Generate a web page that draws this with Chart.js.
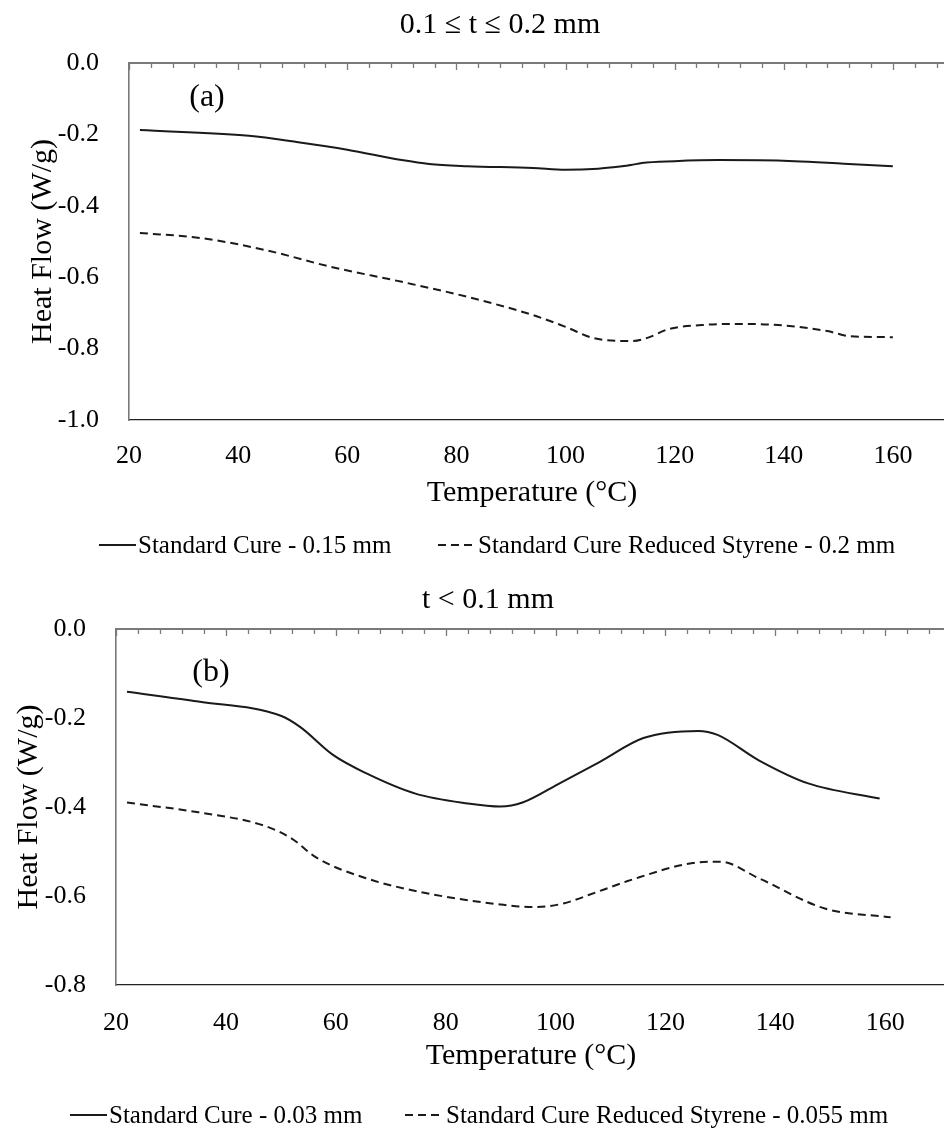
<!DOCTYPE html>
<html>
<head>
<meta charset="utf-8">
<script src="https://cdn.jsdelivr.net/npm/chart.js@4"></script>
<style>
html, body { margin: 0; padding: 0; background: #fff; overflow: hidden; width: 944px; height: 1129px; }
canvas { position: absolute; left: 0; display: block; }
#chartA { top: 0; }
#chartB { top: 570px; }
</style>
</head>
<body>
<canvas id="chartA" width="1034" height="570"></canvas>
<canvas id="chartB" width="1000" height="559"></canvas>
<script>
// (a) 0.1 <= t <= 0.2 mm
const tempA_cure = [22, 42, 51, 60, 70, 75, 82, 94, 100, 106, 110, 112, 114, 120, 128, 142, 151, 160];
const flowA_cure = [-0.188, -0.204, -0.222, -0.243, -0.272, -0.283, -0.289, -0.294, -0.299, -0.296, -0.290, -0.286, -0.280, -0.275, -0.272, -0.275, -0.282, -0.289];
const tempA_rs = [22, 33, 45, 57, 70, 82, 94, 100, 105, 112, 115, 119, 125, 131, 139, 148, 152, 160];
const flowA_rs = [-0.476, -0.490, -0.524, -0.571, -0.613, -0.655, -0.706, -0.739, -0.770, -0.779, -0.770, -0.745, -0.734, -0.731, -0.734, -0.751, -0.765, -0.768];

// (b) t < 0.1 mm
const tempB_cure = [22, 35, 50, 53.5, 59.5, 65.5, 74.5, 84, 90, 94, 101, 108, 116, 126, 129.5, 137, 146, 159];
const flowB_cure = [-0.141, -0.163, -0.195, -0.220, -0.283, -0.324, -0.370, -0.392, -0.399, -0.390, -0.345, -0.299, -0.245, -0.229, -0.238, -0.295, -0.347, -0.381];
const tempB_rs = [22, 35, 47, 52, 56.5, 65.5, 77.5, 90, 96, 101, 108, 113, 125, 130, 137, 149, 161];
const flowB_rs = [-0.390, -0.412, -0.442, -0.471, -0.514, -0.560, -0.596, -0.619, -0.625, -0.618, -0.589, -0.567, -0.526, -0.523, -0.560, -0.628, -0.648];

const xTicks = [20, 40, 60, 80, 100, 120, 140, 160];
const yTicksA = [0, -0.2, -0.4, -0.6, -0.8, -1.0];
const yTicksB = [0, -0.2, -0.4, -0.6, -0.8];

const SERIF = '"Liberation Serif", "Times New Roman", serif';
const INK = '#1a1a1a';

function pts(xs, ys) { return xs.map((x, i) => ({ x: x, y: ys[i] })); }

// top axis line with inward ticks, titles, panel letter and legend
const decor = {
  id: 'decor',
  afterDraw(chart, args, o) {
    const { ctx, chartArea: a } = chart;
    const x = chart.scales.x;
    ctx.save();
    ctx.strokeStyle = '#7a7a7a';
    ctx.lineWidth = 2;
    ctx.beginPath(); ctx.moveTo(a.left, a.top); ctx.lineTo(a.right, a.top); ctx.stroke();
    ctx.lineWidth = 1.3;
    for (let v = 20; v <= x.max; v += 4) {
      const px = Math.round(x.getPixelForValue(v)) + 0.5;
      const len = (v - 20) % 20 === 0 ? 7 : 5;
      ctx.beginPath(); ctx.moveTo(px, a.top); ctx.lineTo(px, a.top + len); ctx.stroke();
    }
    ctx.fillStyle = '#000';
    ctx.textAlign = 'center';
    ctx.textBaseline = 'middle';
    o.texts.forEach(t => {
      ctx.font = t.size + 'px ' + SERIF;
      ctx.fillText(t.text, t.x, t.y);
    });
    // legend
    ctx.font = o.keySize + 'px ' + SERIF;
    ctx.textAlign = 'left';
    o.keys.forEach((k, i) => {
      const ds = chart.data.datasets[i];
      ctx.strokeStyle = ds.borderColor;
      ctx.lineWidth = 2;
      ctx.setLineDash(ds.borderDash || []);
      ctx.beginPath(); ctx.moveTo(k.x0, o.keyY); ctx.lineTo(k.x1, o.keyY); ctx.stroke();
      ctx.setLineDash([]);
      ctx.fillText(ds.label, k.x1 + 2, o.keyY + 1);
    });
    ctx.restore();
  }
};

function makePanel(id, p) {
  return new Chart(document.getElementById(id), {
    type: 'line',
    data: {
      datasets: [
        { label: p.labels[0], data: pts(p.t1, p.f1), borderColor: INK, borderWidth: 2, pointRadius: 0, cubicInterpolationMode: 'monotone', fill: false },
        { label: p.labels[1], data: pts(p.t2, p.f2), borderColor: INK, borderWidth: 2, borderDash: [8, 5], pointRadius: 0, cubicInterpolationMode: 'monotone', fill: false }
      ]
    },
    options: {
      responsive: false,
      animation: false,
      events: [],
      layout: { padding: { top: p.top, right: p.padRight, left: 0, bottom: 0 } },
      plugins: {
        legend: { display: false },
        title: { display: false },
        tooltip: { enabled: false },
        decor: p.decor
      },
      scales: {
        x: {
          type: 'linear',
          min: 20, max: 180,
          afterBuildTicks: s => { s.ticks = xTicks.map(v => ({ value: v })); },
          afterFit: s => { s.height = p.xHeight; },
          grid: { display: false },
          border: { display: true, color: '#222', width: 1.2 },
          ticks: { font: { family: SERIF, size: 26 }, color: '#000', padding: p.xPad, maxRotation: 0, autoSkip: false }
        },
        y: {
          min: p.yTicks[p.yTicks.length - 1], max: 0,
          afterBuildTicks: s => { s.ticks = p.yTicks.map(v => ({ value: v })); },
          afterFit: s => { s.width = p.yWidth; },
          grid: { display: false },
          border: { display: true, color: '#7a7a7a', width: 1.6 },
          ticks: { font: { family: SERIF, size: 26 }, color: '#000', padding: 22, callback: v => v.toFixed(1) },
          title: { display: true, text: 'Heat Flow (W/g)', font: { family: SERIF, size: 30 }, color: '#000', padding: { top: p.yTitlePad, bottom: 0 } }
        }
      }
    },
    plugins: [decor]
  });
}

makePanel('chartA', {
  t1: tempA_cure, f1: flowA_cure, t2: tempA_rs, f2: flowA_rs,
  labels: ['Standard Cure - 0.15 mm', 'Standard Cure Reduced Styrene - 0.2 mm'],
  yTicks: yTicksA, top: 63, padRight: 32, xHeight: 150, xPad: 13, yWidth: 129, yTitlePad: 25,
  decor: {
    texts: [
      { text: '0.1 \u2264 t \u2264 0.2 mm', x: 500, y: 25, size: 30 },
      { text: 'Temperature (\u00B0C)', x: 532, y: 493, size: 30 },
      { text: '(a)', x: 207, y: 98, size: 32 }
    ],
    keySize: 25, keyY: 545,
    keys: [{ x0: 99, x1: 136 }, { x0: 438, x1: 476 }]
  }
});

makePanel('chartB', {
  t1: tempB_cure, f1: flowB_cure, t2: tempB_rs, f2: flowB_rs,
  labels: ['Standard Cure - 0.03 mm', 'Standard Cure Reduced Styrene - 0.055 mm'],
  yTicks: yTicksB, top: 59, padRight: 5, xHeight: 144, xPad: 15, yWidth: 116, yTitlePad: 11,
  decor: {
    texts: [
      { text: 't < 0.1 mm', x: 488, y: 30, size: 30 },
      { text: 'Temperature (\u00B0C)', x: 531, y: 486, size: 30 },
      { text: '(b)', x: 211, y: 103, size: 32 }
    ],
    keySize: 25, keyY: 545,
    keys: [{ x0: 70, x1: 107 }, { x0: 405, x1: 444 }]
  }
});
</script>
</body>
</html>
